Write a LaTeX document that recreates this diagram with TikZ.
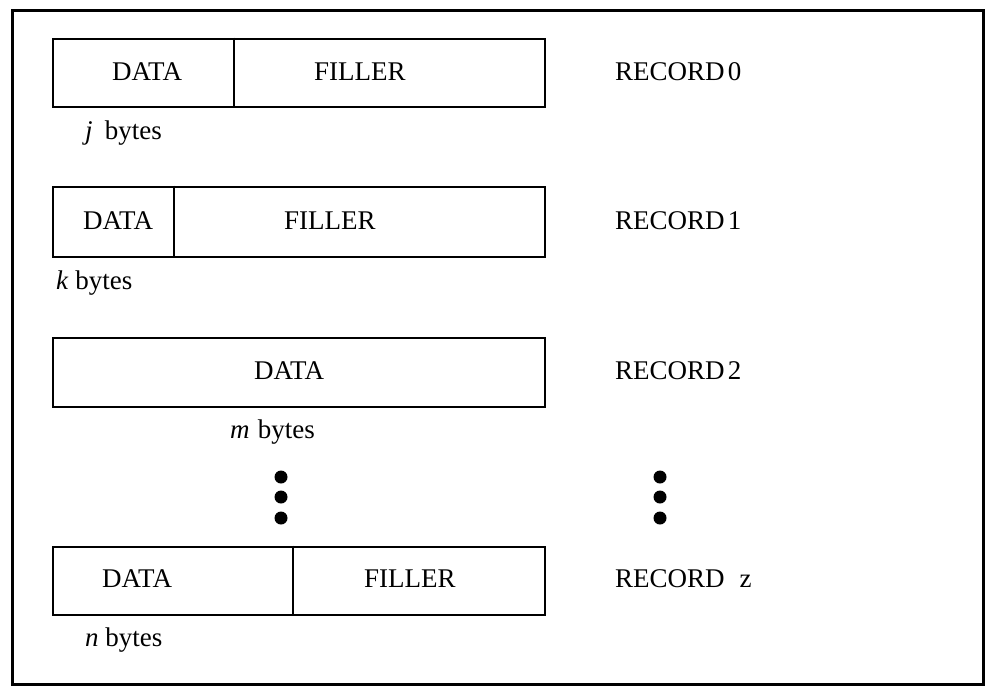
\documentclass[tikz,border=0pt]{standalone}
\usepackage{fontspec}
\setmainfont{Liberation Serif}
\usetikzlibrary{positioning}

\begin{document}
\begin{tikzpicture}[x=1pt,y=-1pt,font=\fontsize{27}{32}\selectfont,
      rec/.style={draw,line width=2.8pt,minimum width=492pt,minimum height=68pt,
                  inner sep=0pt},
      txt/.style={anchor=west,inner sep=0pt},
      dot/.style={circle,fill,inner sep=0pt,minimum size=13pt}]
    \useasboundingbox (0,0) rectangle (996,699);
    \node[draw,line width=2.8pt,minimum width=971pt,minimum height=674pt,inner sep=0pt]
      (frame) at (498,347.5) {};
    % the four records
    \node[rec] (rec0) at (299,73) {};
    \node[rec,minimum height=70pt] (rec1) at (299,222) {};
    \node[rec,minimum height=69pt] (rec2) at (299,372.5) {};
    \node[rec] (recz) at (299,581) {};
    \draw[line width=2.8pt] (rec0.north -| 234,0) -- (rec0.south -| 234,0)
      (rec1.north -| 174,0) -- (rec1.south -| 174,0)
      (recz.north -| 293,0) -- (recz.south -| 293,0);
    % texts in the boxes
    \node[txt] (d0) at (112,72) {DATA};   \node[txt] (f0) at (314,72) {FILLER};
    \node[txt] (d1) at (83,221) {DATA};   \node[txt] (f1) at (284,221) {FILLER};
    \node[txt] (d2) at (254,371) {DATA};
    \node[txt] (dz) at (102,579) {DATA};  \node[txt] (fz) at (364,579) {FILLER};
    % sizes
    \node[txt] (b0) at (85,133) {\textit{j}\hspace{0.45em}bytes};
    \node[txt] (b1) at (56,283) {\textit{k} bytes};
    \node[txt] (b2) at (230,432) {\textit{m}\hspace{0.3em}bytes};
    \node[txt] (bz) at (85,640) {\textit{n} bytes};
    % record names
    \node[txt] (n0) at (615,72) {RECORD\hspace{0.12em}0};
    \node[txt] (n1) at (615,221) {RECORD\hspace{0.12em}1};
    \node[txt] (n2) at (615,371) {RECORD\hspace{0.12em}2};
    \node[txt] (nz) at (615,579) {RECORD\hspace{0.55em}z};
    \foreach \y/\i in {477/a,497/b,518/c}{
      \node[dot] (l\i) at (281,\y) {};
      \node[dot] (r\i) at (660,\y) {};}
\end{tikzpicture}
\end{document}
